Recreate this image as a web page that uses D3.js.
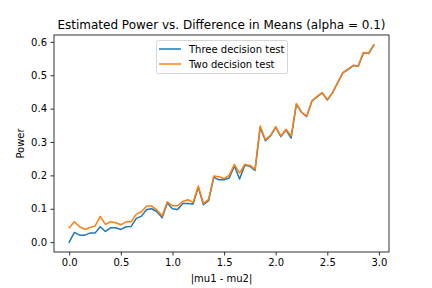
<!DOCTYPE html>
<html>
<head>
<meta charset="utf-8">
<script src="https://cdn.jsdelivr.net/npm/d3@7"></script>
<style>
  html, body { margin: 0; padding: 0; background: #fff; }
  svg { display: block; font-family: "DejaVu Sans", sans-serif; }
</style>
</head>
<body>
<svg id="chart" width="432" height="288"></svg>
<script>
const diffs = [0.00,0.05,0.10,0.15,0.20,0.25,0.30,0.35,0.40,0.45,0.50,0.55,0.60,0.65,0.70,0.75,0.80,0.85,0.90,0.95,
               1.00,1.05,1.10,1.15,1.20,1.25,1.30,1.35,1.40,1.45,1.50,1.55,1.60,1.65,1.70,1.75,1.80,1.85,1.90,1.95,
               2.00,2.05,2.10,2.15,2.20,2.25,2.30,2.35,2.40,2.45,2.50,2.55,2.60,2.65,2.70,2.75,2.80,2.85,2.90,2.95];
const threeDecision = [0.000,0.029,0.021,0.021,0.027,0.027,0.046,0.032,0.043,0.043,0.038,0.046,0.047,0.071,0.078,0.098,0.100,0.091,0.073,0.117,
                       0.100,0.098,0.116,0.116,0.114,0.164,0.112,0.124,0.194,0.187,0.187,0.192,0.228,0.189,0.230,0.227,0.215,0.344,0.304,0.318,
                       0.344,0.316,0.336,0.312,0.413,0.389,0.376,0.422,0.435,0.447,0.426,0.447,0.477,0.507,0.517,0.529,0.527,0.567,0.565,0.590];
const twoDecision = [0.043,0.061,0.046,0.038,0.044,0.048,0.077,0.053,0.061,0.058,0.052,0.061,0.061,0.084,0.091,0.108,0.108,0.096,0.078,0.121,
                     0.109,0.109,0.122,0.127,0.119,0.168,0.116,0.128,0.198,0.196,0.190,0.200,0.233,0.207,0.233,0.230,0.218,0.348,0.307,0.320,
                     0.346,0.318,0.338,0.318,0.415,0.390,0.377,0.423,0.436,0.448,0.427,0.448,0.478,0.508,0.518,0.530,0.528,0.568,0.566,0.591];
const xTicks = [0.0, 0.5, 1.0, 1.5, 2.0, 2.5, 3.0];
const yTicks = [0.0, 0.1, 0.2, 0.3, 0.4, 0.5, 0.6];
const seriesNames = ["Three decision test", "Two decision test"];
const seriesColors = ["#1f77b4", "#ff7f0e"];
const titleText = "Estimated Power vs. Difference in Means (alpha = 0.1)";
const xLabel = "|mu1 - mu2|";
const yLabel = "Power";

const L = 54, R = 389, T = 35, B = 252;
const svg = d3.select("#chart");

const xPad = (2.95 - 0) * 0.05, yPad = (0.591 - 0) * 0.05;
const x = d3.scaleLinear().domain([0 - xPad, 2.95 + xPad]).range([L, R]);
const y = d3.scaleLinear().domain([0 - yPad, 0.591 + yPad]).range([B, T]);

// axes
const xAxis = d3.axisBottom(x).tickValues(xTicks).tickFormat(d3.format(".1f")).tickSize(3.5).tickPadding(3.5);
const yAxis = d3.axisLeft(y).tickValues(yTicks).tickFormat(d3.format(".1f")).tickSize(3.5).tickPadding(3.5);

const gx = svg.append("g").attr("transform", `translate(0,${B})`).call(xAxis);
const gy = svg.append("g").attr("transform", `translate(${L},0)`).call(yAxis);
[gx, gy].forEach(g => {
  g.select(".domain").remove();
  g.selectAll(".tick line").attr("stroke", "#000").attr("stroke-width", 0.8);
  g.selectAll(".tick text").attr("fill", "#000").style("font-size", "10px").style("font-family", "DejaVu Sans");
});

// lines
const datasets = [threeDecision, twoDecision];
const line = d3.line().x((d, i) => x(diffs[i])).y(d => y(d));
datasets.forEach((vals, k) => {
  svg.append("path").datum(vals)
    .attr("fill", "none")
    .attr("stroke", seriesColors[k])
    .attr("stroke-width", 1.5)
    .attr("stroke-linejoin", "round")
    .attr("stroke-linecap", "square")
    .attr("d", line);
});

// spines
svg.append("rect").attr("x", L).attr("y", T).attr("width", R - L).attr("height", B - T)
  .attr("fill", "none").attr("stroke", "#000").attr("stroke-width", 0.8);

// title and labels
svg.append("text").attr("x", (L + R) / 2).attr("y", 29).attr("text-anchor", "middle")
  .style("font-size", "12px").attr("fill", "#000").text(titleText);
svg.append("text").attr("x", (L + R) / 2).attr("y", 282).attr("text-anchor", "middle")
  .style("font-size", "10px").attr("fill", "#000").text(xLabel);
svg.append("text").attr("transform", `translate(24,${(T + B) / 2}) rotate(-90)`).attr("text-anchor", "middle")
  .style("font-size", "10px").attr("fill", "#000").text(yLabel);

// legend
const lg = svg.append("g");
lg.append("rect").attr("x", 156.5).attr("y", 40.5).attr("width", 131).attr("height", 33).attr("rx", 2)
  .attr("fill", "#fff").attr("fill-opacity", 0.8).attr("stroke", "#ccc").attr("stroke-width", 0.8);
seriesNames.forEach((name, k) => {
  const yy = 49 + k * 15;
  lg.append("line").attr("x1", 159).attr("x2", 181).attr("y1", yy).attr("y2", yy)
    .attr("stroke", seriesColors[k]).attr("stroke-width", 1.5);
  lg.append("text").attr("x", 189).attr("y", yy + 3.5).style("font-size", "10px").attr("fill", "#000").text(name);
});
</script>
</body>
</html>
